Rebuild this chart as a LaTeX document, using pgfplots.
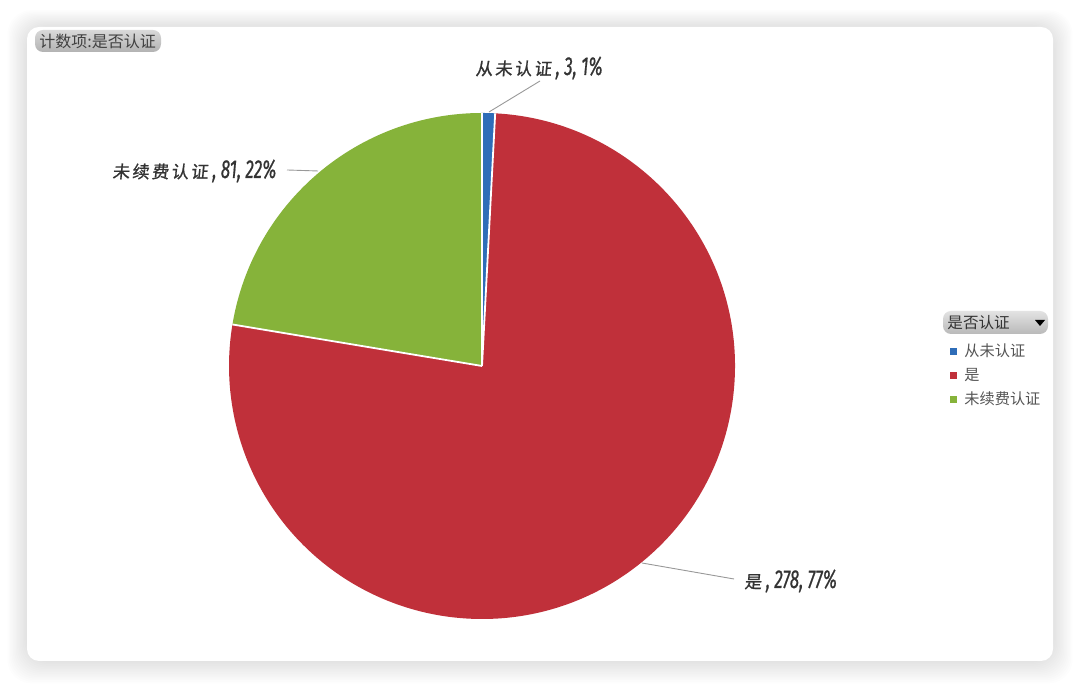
\documentclass[border=0pt]{standalone}
\usepackage{pgfplots}
\pgfplotsset{compat=1.18}
\usepackage{fontspec}
\setmainfont{Noto Sans CJK SC}
\newfontfamily\uifont{Noto Sans CJK SC}
\newfontfamily\labcjk[FakeSlant=0.1,FakeBold=1.0]{Noto Sans CJK SC}
\newfontfamily\labnum[FakeStretch=0.66,FakeBold=0.6]{Fira Sans}

\definecolor{sBlue}{HTML}{2E6DB8}
\definecolor{sRed}{HTML}{C0303A}
\definecolor{sGreen}{HTML}{86B33A}
\definecolor{labText}{HTML}{333333}
\definecolor{legText}{HTML}{555555}

% counts per category
\def\nA{3}   % 从未认证
\def\nB{278} % 是
\def\nC{81}  % 未续费认证
\pgfmathsetmacro\nTot{\nA+\nB+\nC}
\pgfmathsetmacro\aZero{90}
\pgfmathsetmacro\aOne{90-\nA/\nTot*360}
\pgfmathsetmacro\aTwo{\aOne-\nB/\nTot*360}
\pgfmathsetmacro\aThree{\aTwo-\nC/\nTot*360}
\def\R{126.5pt}

\newcommand{\cj}[1]{{\labcjk\fontsize{8.6}{10}\selectfont #1}}
\newcommand{\nm}[1]{{\labnum\itshape\fontsize{13}{14}\selectfont #1}}
\newcommand{\gap}{\hspace{0.14em}}

\begin{document}
\begin{tikzpicture}
% page background, shadow and white panel (1 unit = 1 px, y upwards)
\begin{scope}[x=0.5pt,y=0.5pt]
  \fill[white] (0,0) rectangle (1080,688);
  \foreach \k in {1,...,14}{
    \fill[black,opacity=0.007,rounded corners=12pt]
      (27-1.4*\k,27-1.6*\k) rectangle (1053+1.4*\k,661+1.2*\k);
  }
  \fill[white,rounded corners=6pt] (27,27) rectangle (1053,661);
\end{scope}

\begin{axis}[
  at={(0,0)}, anchor=origin,
  x=0.5pt, y=0.5pt,
  xmin=0, xmax=1080, ymin=0, ymax=688,
  hide axis, clip=false]
  \def\C{(axis cs:482,322)}
  \fill[sBlue]  \C -- ++(\aZero:\R) arc[start angle=\aZero, end angle=\aOne, radius=\R] -- cycle;
  \fill[sRed]   \C -- ++(\aOne:\R)  arc[start angle=\aOne, end angle=\aTwo, radius=\R] -- cycle;
  \fill[sGreen] \C -- ++(\aTwo:\R)  arc[start angle=\aTwo, end angle=\aThree, radius=\R] -- cycle;
  % white slice borders
  \draw[white,line width=0.9pt] \C -- ++(\aZero:\R);
  \draw[white,line width=0.9pt] \C -- ++(\aOne:\R);
  \draw[white,line width=0.9pt] \C -- ++(\aTwo:\R);
\end{axis}

\begin{scope}[x=0.5pt,y=0.5pt]
  % leader lines
  \draw[gray!80,line width=0.45pt] (489,576) -- (540,607);
  \draw[gray!80,line width=0.45pt] (287,518) -- (318,517);
  \draw[gray!80,line width=0.45pt] (642,125) -- (734,109);
  % data labels
  \node[text=labText,anchor=base west,inner sep=0]
    at (475,613) {\cj{从\gap 未\gap 认\gap 证}\nm{\,,\,3,\,1\%}};
  \node[text=labText,anchor=base west,inner sep=0]
    at (112,510) {\cj{未\gap 续\gap 费\gap 认\gap 证}\nm{\,,\,81,\,22\%}};
  \node[text=labText,anchor=base west,inner sep=0]
    at (744,100) {\cj{是}\nm{\,,\,278,\,77\%}};

  % top-left field button
  \shade[top color=gray!30,bottom color=gray!60,rounded corners=4pt]
    (35,636) rectangle (161,658);
  \node[text=black!75,anchor=west,inner sep=0,font=\uifont\fontsize{8}{9}\selectfont]
    at (39,647) {计数项:是否认证};

  % legend field button
  \shade[top color=gray!22,bottom color=gray!55,rounded corners=4pt]
    (943,354) rectangle (1048,377);
  \node[text=black!80,anchor=west,inner sep=0,font=\uifont\fontsize{7.8}{9}\selectfont]
    at (947,365.5) {是否认证};
  \fill[black] (1035,368) -- (1045,368) -- (1040,362) -- cycle;

  % legend entries
  \fill[sBlue]  (950,333) rectangle (957,340);
  \fill[sRed]   (950,309) rectangle (957,316);
  \fill[sGreen] (950,285) rectangle (957,292);
  \node[text=legText,anchor=west,inner sep=0,font=\uifont\fontsize{7.6}{9}\selectfont]
    at (964,337) {从未认证};
  \node[text=legText,anchor=west,inner sep=0,font=\uifont\fontsize{7.6}{9}\selectfont]
    at (964,313) {是};
  \node[text=legText,anchor=west,inner sep=0,font=\uifont\fontsize{7.6}{9}\selectfont]
    at (964,289) {未续费认证};
\end{scope}
\end{tikzpicture}
\end{document}
